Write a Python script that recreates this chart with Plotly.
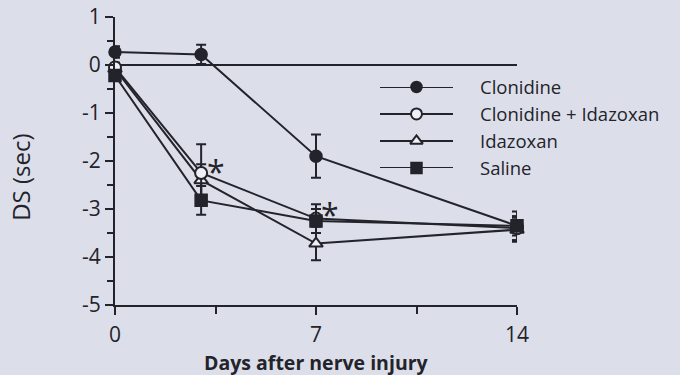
import plotly.graph_objects as go

# Days after nerve injury at which DS was measured
days = [0, 3, 7, 14]

# Group names, in legend order
series_names = ["Clonidine", "Clonidine + Idazoxan", "Idazoxan", "Saline"]

# Mean DS (sec) and error per group
clonidine = [0.27, 0.22, -1.90, -3.35]
clonidine_err = [0.12, 0.2, 0.45, 0.3]
clon_idaz = [-0.05, -2.25, -3.20, -3.40]
clon_idaz_err = [0.1, 0.6, 0.3, 0.25]
idazoxan = [-0.08, -2.40, -3.72, -3.43]
idazoxan_err = [0.1, 0.33, 0.35, 0.25]
saline = [-0.22, -2.82, -3.25, -3.35]
saline_err = [0.1, 0.3, 0.25, 0.2]

# Axis ticks
x_ticks = [0, 7, 14]
x_minor = [3.5, 10.5]
y_ticks = [-5, -4, -3, -2, -1, 0, 1]
y_tick_text = ["-5", "-4", "-3", "-2", "-1", "0", "1"]
y_minor = [-4.5, -3.5, -2.5, -1.5, -0.5, 0.5]

# Significance markers: (day, DS) positions of the asterisks
star_x = [3.5, 7.5]
star_y = [-2.08, -2.97]

INK = "#23232b"
BG = "#dcdfe9"
FONT = "Open Sans"

styles = {
    "Clonidine": dict(symbol="circle", color=INK, line=dict(color=INK, width=1.5)),
    "Clonidine + Idazoxan": dict(symbol="circle", color="#eef0f5", line=dict(color=INK, width=2)),
    "Idazoxan": dict(symbol="triangle-up", color="#eef0f5", line=dict(color=INK, width=2)),
    "Saline": dict(symbol="square", color=INK, line=dict(color=INK, width=1.5)),
}
values = {
    "Clonidine": (clonidine, clonidine_err),
    "Clonidine + Idazoxan": (clon_idaz, clon_idaz_err),
    "Idazoxan": (idazoxan, idazoxan_err),
    "Saline": (saline, saline_err),
}

fig = go.Figure()

draw_order = ["Idazoxan", "Clonidine + Idazoxan", "Clonidine", "Saline"]
for name in draw_order:
    y, err = values[name]
    st = styles[name]
    fig.add_trace(go.Scatter(
        x=days, y=y, name=name, mode="lines+markers",
        line=dict(color=INK, width=2),
        marker=dict(symbol=st["symbol"], size=12, color=st["color"], line=st["line"]),
        error_y=dict(type="data", array=err, visible=True, color=INK, thickness=2, width=5),
        cliponaxis=False, showlegend=False,
    ))

# Legend: sample lines/markers on a small hidden axis pair, labels in paper space
leg_dom_y = [0.476, 0.757]
n_rows = len(series_names)
for i, name in enumerate(series_names):
    st = styles[name]
    fig.add_trace(go.Scatter(
        x=[0, 1], y=[i, i], mode="lines", line=dict(color=INK, width=2),
        xaxis="x2", yaxis="y2", showlegend=False, hoverinfo="skip",
    ))
    fig.add_trace(go.Scatter(
        x=[0.5], y=[i], mode="markers",
        marker=dict(symbol=st["symbol"], size=11, color=st["color"], line=st["line"]),
        xaxis="x2", yaxis="y2", showlegend=False, hoverinfo="skip", cliponaxis=False,
    ))
    row_y = leg_dom_y[1] - i * (leg_dom_y[1] - leg_dom_y[0]) / (n_rows - 1)
    fig.add_annotation(
        xref="paper", yref="paper", x=0.903, y=row_y, text=name, showarrow=False,
        xanchor="left", yanchor="middle", font=dict(family=FONT, size=18.5, color=INK),
    )

for sx, sy in zip(star_x, star_y):
    fig.add_annotation(
        x=sx, y=sy, yshift=-7, text="*", showarrow=False, xanchor="center", yanchor="middle",
        font=dict(family=FONT, size=32, color=INK),
    )

fig.add_annotation(
    x=7, y=-5, yshift=-57, text="<b>Days after nerve injury</b>", showarrow=False,
    xanchor="center", yanchor="middle", font=dict(family=FONT, size=19.5, color=INK),
)
fig.add_annotation(
    xref="paper", x=0, xshift=-94, y=-2.35, text="DS (sec)", showarrow=False, textangle=-90,
    xanchor="center", yanchor="middle", font=dict(family=FONT, size=24, color=INK),
)

fig.update_layout(
    width=680, height=375,
    margin=dict(l=115, r=163, t=17, b=70, autoexpand=False),
    paper_bgcolor=BG, plot_bgcolor=BG,
    font=dict(family=FONT, size=21, color=INK),
    xaxis=dict(
        range=[0, 14], tickvals=x_ticks, ticktext=[str(v) for v in x_ticks],
        showgrid=False, zeroline=False, showline=True, linecolor=INK, linewidth=2,
        ticks="outside", ticklen=8, tickwidth=2, tickcolor=INK, ticklabelstandoff=2,
        automargin=False,
        minor=dict(tickvals=x_minor, ticks="outside", ticklen=7, tickwidth=2, tickcolor=INK),
    ),
    yaxis=dict(
        range=[-5, 1], tickvals=y_ticks, ticktext=y_tick_text,
        showgrid=False, zeroline=True, zerolinecolor=INK, zerolinewidth=2,
        showline=True, linecolor=INK, linewidth=2, automargin=False,
        ticks="outside", ticklen=8, tickwidth=2, tickcolor=INK,
        minor=dict(tickvals=y_minor, ticks="outside", ticklen=6, tickwidth=2, tickcolor=INK),
    ),
    xaxis2=dict(domain=[0.659, 0.841], range=[0, 1], visible=False, anchor="y2", automargin=False),
    yaxis2=dict(domain=leg_dom_y, range=[n_rows - 1, 0], visible=False, anchor="x2", automargin=False),
    showlegend=False,
)

fig.write_html("out.html")
